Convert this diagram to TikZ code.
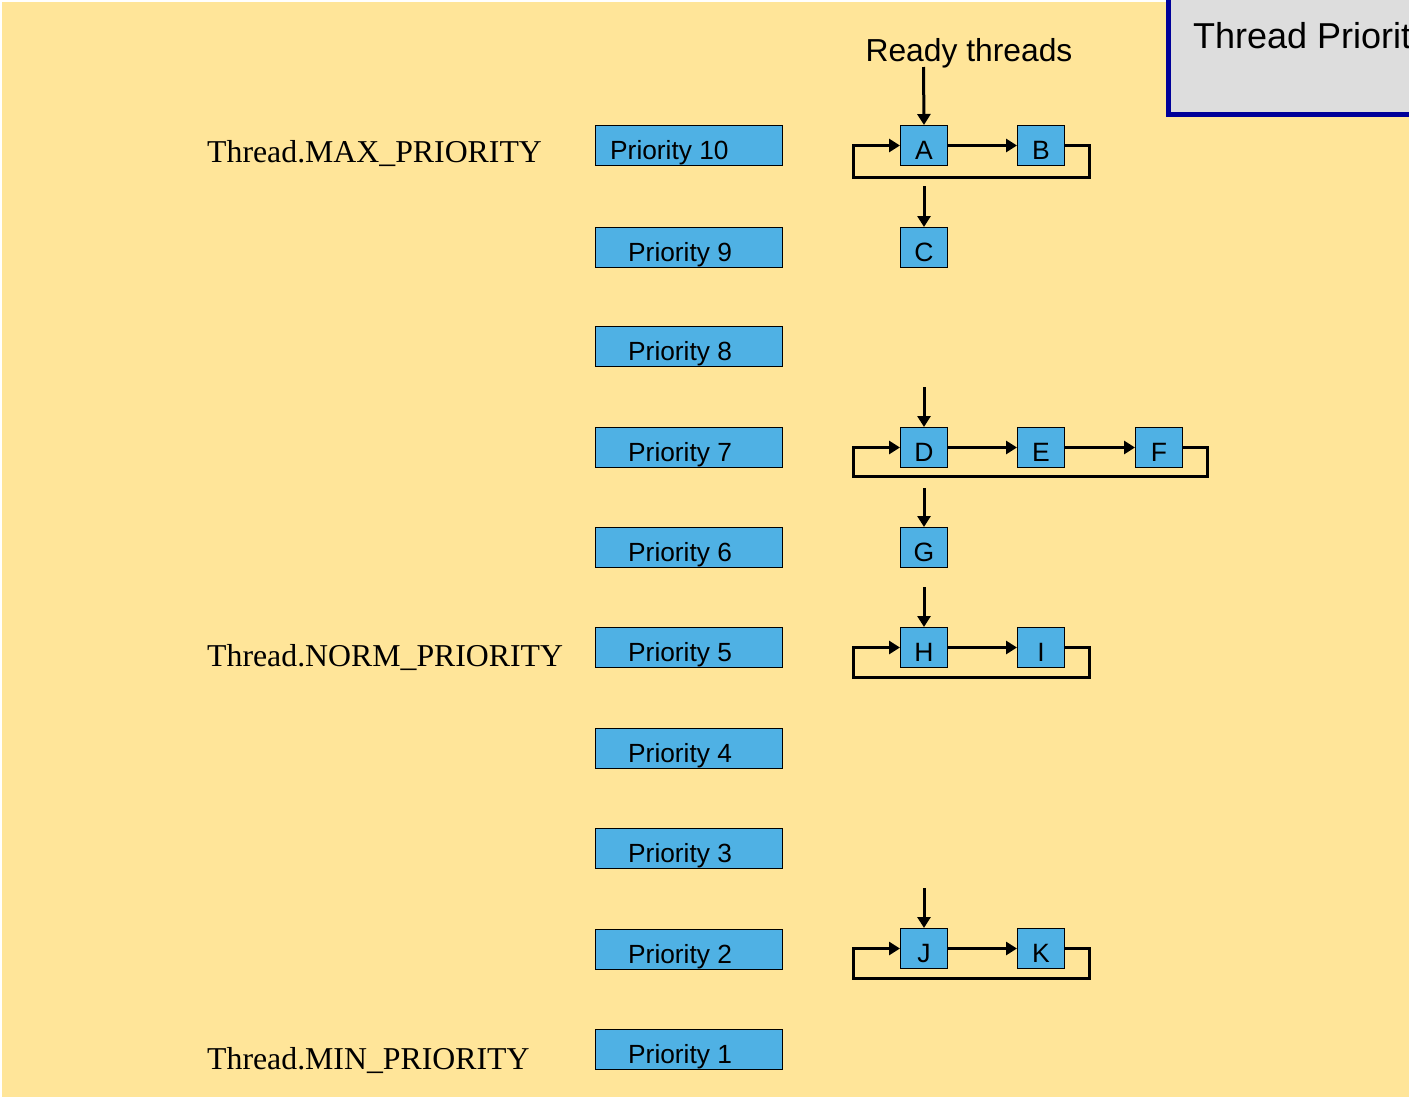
\documentclass[tikz,border=0pt]{standalone}
\usepackage{fontspec}
\setmainfont{Liberation Sans}
\newfontfamily\serifface{Liberation Serif}
\usetikzlibrary{arrows.meta}
\definecolor{bg}{RGB}{255,229,153}
\definecolor{boxblue}{RGB}{79,177,228}
\definecolor{titlegray}{RGB}{221,221,221}
\definecolor{navy}{RGB}{0,0,153}
\begin{document}
\begin{tikzpicture}[x=1pt,y=-1pt,
 pbox/.style={draw=black, line width=1pt, fill=boxblue, minimum width=187pt, minimum height=40pt, inner sep=0pt, anchor=north west},
 tbox/.style={draw=black, line width=1pt, fill=boxblue, minimum width=47pt, minimum height=40pt, inner sep=0pt, anchor=north west, font=\fontsize{26.5}{30}\selectfont, text height=27pt, text depth=0pt},
 ptext/.style={font=\fontsize{26.3}{30}\selectfont, inner sep=0pt, anchor=base west},
 lbl/.style={font=\serifface\fontsize{31.8}{36}\selectfont, inner sep=0pt, anchor=base west},
 link/.style={line width=3pt, -{Triangle[length=11pt,width=13pt]}}]
\path[use as bounding box] (0,0) rectangle (1409,1098);
\clip (0,0) rectangle (1409,1098);
\fill[white] (0,0) rectangle (1409,1098);
\fill[bg] (1.5,1.5) rectangle (1409,1096.5);
% title box
\filldraw[fill=titlegray, draw=navy, line width=5pt] (1168.5,-10) rectangle (1430,114.5);
\node[font=\fontsize{36}{40}\selectfont, inner sep=0pt, anchor=base west] (title) at (1193,48) {Thread Priorities};
% left labels
\node[lbl] (maxp) at (207,162) {Thread.MAX\_PRIORITY};
\node[lbl] (normp) at (207,666) {Thread.NORM\_PRIORITY};
\node[lbl] (minp) at (207,1069) {Thread.MIN\_PRIORITY};
% priority boxes
\node[pbox] (p10) at (595,125) {};
\node[pbox] (p9) at (595,227) {};
\node[pbox] (p8) at (595,326) {};
\node[pbox] (p7) at (595,427) {};
\node[pbox] (p6) at (595,527) {};
\node[pbox] (p5) at (595,627) {};
\node[pbox] (p4) at (595,728) {};
\node[pbox] (p3) at (595,828) {};
\node[pbox] (p2) at (595,929) {};
\node[pbox] (p1) at (595,1029) {};
\node[ptext] (t10) at (610,159) {Priority 10};
\node[ptext] (t9) at (628,261) {Priority 9};
\node[ptext] (t8) at (628,360) {Priority 8};
\node[ptext] (t7) at (628,461) {Priority 7};
\node[ptext] (t6) at (628,561) {Priority 6};
\node[ptext] (t5) at (628,661) {Priority 5};
\node[ptext] (t4) at (628,762) {Priority 4};
\node[ptext] (t3) at (628,862) {Priority 3};
\node[ptext] (t2) at (628,963) {Priority 2};
\node[ptext] (t1) at (628,1063) {Priority 1};
% ready threads
\node[font=\fontsize{31.8}{34}\selectfont, inner sep=0pt, anchor=base] (ready) at (969,61) {Ready threads};
% thread boxes
\node[tbox] (A) at (900,125) {A};
\node[tbox] (B) at (1017,125) {B};
\node[tbox] (C) at (900,227) {C};
\node[tbox] (D) at (900,427) {D};
\node[tbox] (E) at (1017,427) {E};
\node[tbox] (F) at (1135,427) {F};
\node[tbox] (G) at (900,527) {G};
\node[tbox] (H) at (900,627) {H};
\node[tbox] (I) at (1017,627) {I};
\node[tbox] (J) at (900,928) {J};
\node[tbox] (K) at (1017,928) {K};
% arrows
\coordinate (rA) at (923.5,67);
\draw[link] (rA) -- (A.north);
\draw[link] (A.east) -- (B.west);
\draw[link] (B.east) -- ++(24,0) -- ++(0,32) -- ++(-236,0) -- ++(0,-32) -- (A.west);
\draw[link] ([yshift=-20pt]A.south) -- (C.north);
\draw[link] ([yshift=40pt]D.north) -- (D.north);
\draw[link] (D.east) -- (E.west);
\draw[link] (E.east) -- (F.west);
\draw[link] (F.east) -- ++(24,0) -- ++(0,29) -- ++(-354,0) -- ++(0,-29) -- (D.west);
\draw[link] ([yshift=-20pt]D.south) -- (G.north);
\draw[link] ([yshift=40pt]H.north) -- (H.north);
\draw[link] (H.east) -- (I.west);
\draw[link] (I.east) -- ++(24,0) -- ++(0,30) -- ++(-236,0) -- ++(0,-30) -- (H.west);
\draw[link] ([yshift=40pt]J.north) -- (J.north);
\draw[link] (J.east) -- (K.west);
\draw[link] (K.east) -- ++(24,0) -- ++(0,30) -- ++(-236,0) -- ++(0,-30) -- (J.west);
\end{tikzpicture}
\end{document}
